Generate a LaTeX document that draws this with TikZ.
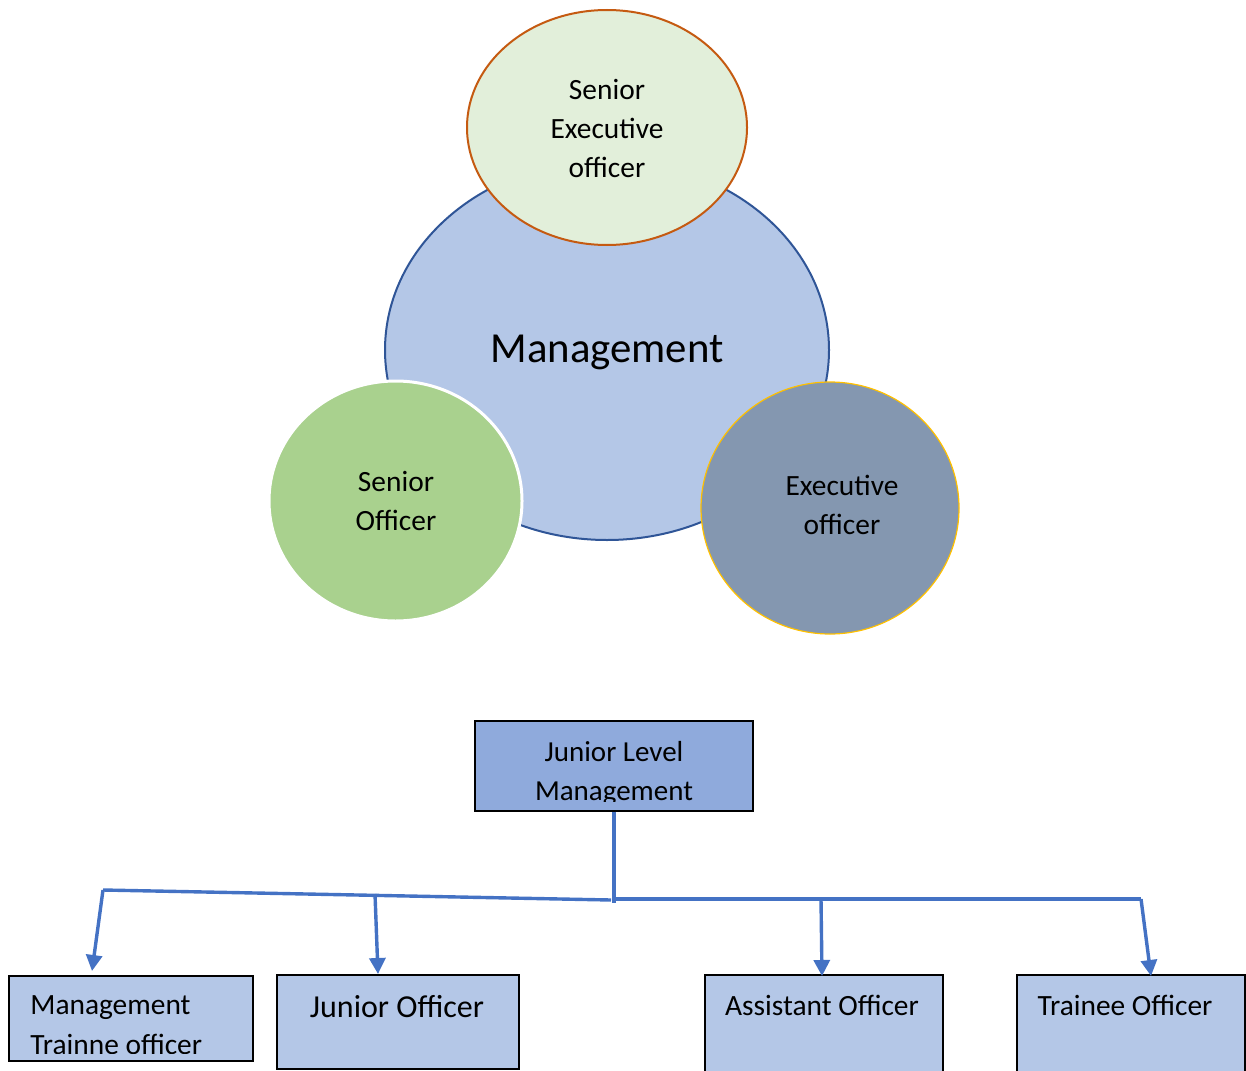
\documentclass[tikz,border=0pt]{standalone}
\usepackage{fontspec}
\setmainfont{Carlito}
\usetikzlibrary{arrows.meta,shapes.geometric}
\definecolor{mgfill}{HTML}{B4C7E7}
\definecolor{mgline}{HTML}{2F5597}
\definecolor{sefill}{HTML}{E2EFDA}
\definecolor{seline}{HTML}{C55A11}
\definecolor{sofill}{HTML}{A9D18E}
\definecolor{eofill}{HTML}{8497B0}
\definecolor{eoline}{HTML}{FFC000}
\definecolor{jlfill}{HTML}{8FAADC}
\definecolor{connc}{HTML}{4472C4}
\begin{document}
\begin{tikzpicture}[x=0.5pt,y=-0.5pt,
  oval/.style={ellipse, inner sep=0pt},
  boxnode/.style={rectangle, draw=black, line width=0.7pt, fill=mgfill, inner sep=0pt},
  conn/.style={draw=connc, line width=1.7pt},
  arr/.style={conn, -{Triangle[width=8pt,length=8pt]}},
  lbl/.style={align=center, font=\fontsize{14.7pt}{19.5pt}\selectfont, inner sep=0pt},
  boxtxt/.style={inner sep=0pt, font=\fontsize{14.7pt}{19pt}\selectfont}]
\useasboundingbox (0,0) rectangle (1246,1070);

% circles
\node[oval, draw=mgline, line width=1pt, fill=mgfill, minimum width=222pt, minimum height=190pt] (mg) at (607,350) {};
\node[oval, draw=seline, line width=1pt, fill=sefill, minimum width=140pt, minimum height=117.5pt] (se) at (607,127.5) {};
\node[oval, draw=white, line width=1.5pt, fill=sofill, minimum width=126.5pt, minimum height=120pt] (so) at (395.5,501) {};
\node[oval, draw=eoline, line width=0.6pt, fill=eofill, minimum width=129pt, minimum height=126pt] (eo) at (830,508) {};

\node[inner sep=0pt, font=\fontsize{21.4pt}{26pt}\selectfont] (mgt) at (607,352) {Management};
\node[lbl] (set) at (607,128) {Senior\\Executive\\officer};
\node[lbl] (sot) at (396,501) {Senior\\Officer};
\node[lbl] (eot) at (842,505) {Executive\\officer};

% boxes
\node[boxnode, fill=jlfill, minimum width=139pt, minimum height=45pt] (jl) at (614,766) {};
\node[boxnode, minimum width=122pt, minimum height=42.5pt] (b1) at (131,1018.5) {};
\node[boxnode, minimum width=121pt, minimum height=47pt] (b2) at (398,1022) {};
\node[boxnode, minimum width=119pt, minimum height=50pt] (b3) at (824,1025) {};
\node[boxnode, minimum width=114pt, minimum height=50pt] (b4) at (1131,1025) {};

\begin{scope}
\clip (476,722) rectangle (752,801);
\node[anchor=base, inner sep=0pt, font=\fontsize{14.5pt}{19.5pt}\selectfont] (jlt) at (614,761) {Junior Level};
\node[anchor=base, inner sep=0pt, font=\fontsize{14.5pt}{19.5pt}\selectfont] (jlt2) at (614,800) {Management};
\end{scope}
\begin{scope}
\clip (10,977) rectangle (252,1053);
\node[boxtxt, anchor=base west] (b1t) at (30,1014) {Management};
\node[boxtxt, anchor=base west] (b1t2) at (30,1054) {Trainne officer};
\end{scope}
\node[inner sep=0pt, font=\fontsize{16pt}{19pt}\selectfont] (b2t) at (397,1007) {Junior Officer};
\node[boxtxt] (b3t) at (822,1005) {Assistant Officer};
\node[boxtxt] (b4t) at (1125,1005) {Trainee Officer};

% connectors
\coordinate (jn) at (614,903);
\coordinate (jl0) at (611,900);
\coordinate (jr0) at (614,899);
\coordinate (lc) at (103,890);
\coordinate (c2) at (375,894);
\coordinate (c3) at (821,899);
\coordinate (rc) at (1141,899);
\coordinate (t1) at (92,971);
\coordinate (t2) at (378,974);
\coordinate (t3) at (822,976);
\coordinate (t4) at (1151,976);

\draw[conn] (jl) -- (jn);
\draw[conn] (jl0) -- (lc);
\draw[conn] (jr0) -- (rc);
\draw[arr] (lc) -- (t1);
\draw[arr] (c2) -- (t2);
\draw[arr] (c3) -- (t3);
\draw[arr] (rc) -- (t4);
\end{tikzpicture}
\end{document}
